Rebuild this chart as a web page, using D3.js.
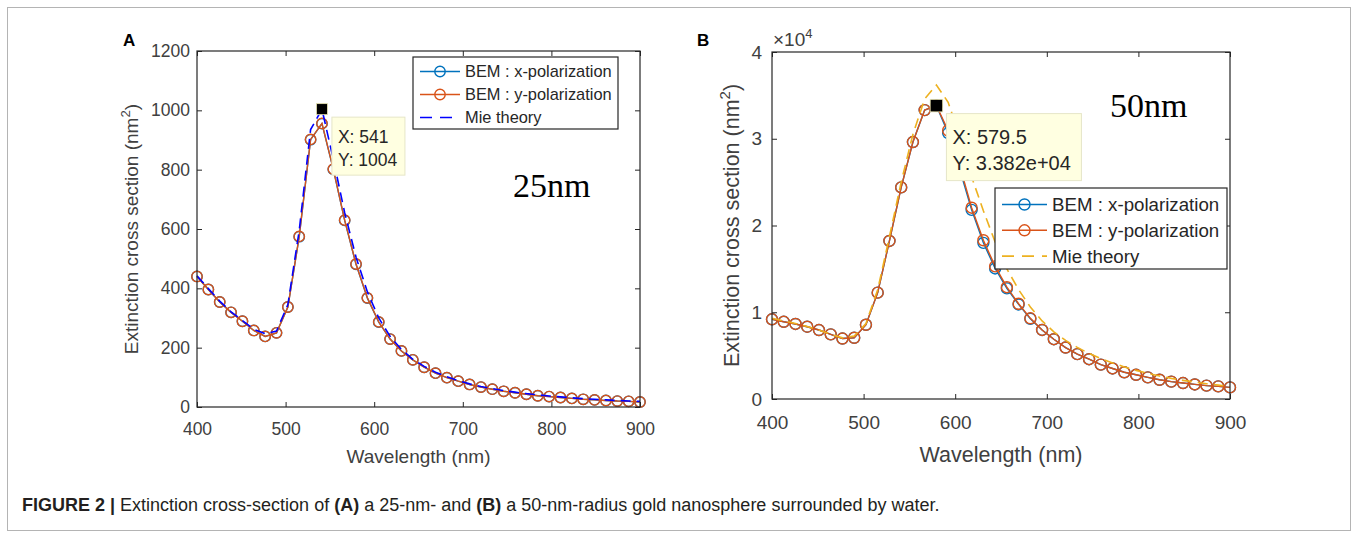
<!DOCTYPE html>
<html>
<head>
<meta charset="utf-8">
<script src="https://cdn.jsdelivr.net/npm/d3@7"></script>
<style>
body{margin:0;background:#fff;}
svg text{font-family:"Liberation Sans",Arial,Helvetica,sans-serif;}
</style>
</head>
<body>
<svg id="fig" width="1358" height="538"></svg>
<script>
////////////////////////////////////////////////////////////////////////////
// data (40 wavelengths, 400-900 nm)
////////////////////////////////////////////////////////////////////////////
var wavelength = [400, 412.82, 425.64, 438.46, 451.28, 464.1, 476.92, 489.74, 502.56, 515.38,
  528.21, 541.03, 553.85, 566.67, 579.49, 592.31, 605.13, 617.95, 630.77, 643.59,
  656.41, 669.23, 682.05, 694.87, 707.69, 720.51, 733.33, 746.15, 758.97, 771.79,
  784.62, 797.44, 810.26, 823.08, 835.9, 848.72, 861.54, 874.36, 887.18, 900];

// panel A : 25 nm
var bemXA = [440, 396, 354, 319, 289, 258, 238, 250, 337, 574, 901, 955, 801, 629, 481, 367, 286, 229, 189, 159,
  134, 114, 99, 87, 76, 67, 60, 53, 48, 43, 38, 35, 32, 29, 26, 24, 22, 20, 19, 17];
var bemYA = [440, 396, 354, 319, 289, 258, 238, 250, 337, 575, 902, 956, 802, 630, 482, 368, 287, 229, 189, 159,
  134, 114, 99, 87, 76, 67, 60, 53, 48, 43, 38, 35, 32, 29, 26, 24, 22, 20, 19, 17];
var mieA = [442, 399, 357, 321, 291, 262, 247, 256, 345, 595, 935, 1004, 835, 655, 505, 388, 300, 238, 194, 161,
  137, 117, 102, 89, 78, 69, 62, 55, 50, 45, 41, 37, 34, 31, 28, 26, 24, 22, 20, 19];

// panel B : 50 nm
var bemXB = [9190, 8900, 8650, 8330, 7950, 7450, 6970, 7060, 8560, 12260, 18220, 24390, 29620, 33300, 33820, 30650, 26400, 21800, 18000, 15050,
  12750, 10900, 9250, 7960, 6890, 5930, 5170, 4590, 3960, 3520, 3080, 2790, 2490, 2220, 2000, 1840, 1680, 1540, 1450, 1340];
var bemYB = [9190, 8900, 8650, 8330, 7950, 7450, 6970, 7060, 8560, 12260, 18220, 24390, 29620, 33300, 33820, 30950, 26800, 22050, 18300, 15290,
  12890, 10980, 9300, 7960, 6890, 5930, 5170, 4590, 3960, 3520, 3080, 2790, 2490, 2220, 2000, 1840, 1680, 1540, 1450, 1340];
var mieB = [9300, 9000, 8700, 8350, 7950, 7450, 7050, 7250, 8700, 12600, 18700, 25000, 30500, 34600, 36200, 34200, 30200, 25600, 21700, 18100,
  15000, 12600, 10600, 9000, 7750, 6750, 5950, 5250, 4650, 4150, 3700, 3300, 2950, 2650, 2380, 2150, 1950, 1760, 1600, 1450];

// ticks, legend, data tips
var xTicks = [400, 500, 600, 700, 800, 900];
var yTicksA = [0, 200, 400, 600, 800, 1000, 1200];
var yTicksB = [0, 10000, 20000, 30000, 40000];
var yTickLabelsB = ["0", "1", "2", "3", "4"];
var legendLabels = ["BEM : x-polarization", "BEM : y-polarization", "Mie theory"];
var tipA = [541, 1004];
var tipB = [579.5, 33820];

var colX = "#0072BD", colY = "#D95319";
var svg = d3.select("#fig");

// outer frame of the figure
svg.append("rect").attr("x", 7.5).attr("y", 7.5).attr("width", 1343).attr("height", 523)
  .attr("fill", "none").attr("stroke", "#b4b4b4").attr("stroke-width", 1);

////////////////////////////////////////////////////////////////////////////
// one panel
////////////////////////////////////////////////////////////////////////////
function drawPanel(p) {
  var g = svg.append("g");
  var x = d3.scaleLinear().domain([400, 900]).range([p.left, p.right]);
  var y = d3.scaleLinear().domain([0, p.yTicks[p.yTicks.length - 1]]).range([p.bottom, p.top]);

  var line = function(vals) {
    return d3.line().x(function(d, i) { return x(wavelength[i]); })
      .y(function(d) { return y(d); })(vals);
  };

  // BEM x, BEM y, then Mie on top (matlab plot order)
  [[p.bemX, colX], [p.bemY, colY]].forEach(function(s) {
    g.append("path").attr("d", line(s[0])).attr("fill", "none")
      .attr("stroke", s[1]).attr("stroke-width", 1.4);
    g.append("g").selectAll("circle").data(s[0]).enter().append("circle")
      .attr("cx", function(d, i) { return x(wavelength[i]); })
      .attr("cy", function(d) { return y(d); })
      .attr("r", p.r).attr("fill", "none").attr("stroke", s[1]).attr("stroke-width", 1.4);
  });
  g.append("path").attr("d", line(p.mie)).attr("fill", "none")
    .attr("stroke", p.mieColor).attr("stroke-width", 1.6).attr("stroke-dasharray", "10,6");

  // axes, ticks inward on all four sides
  var tk = 5;
  g.append("g").attr("transform", "translate(0," + p.bottom + ")")
    .call(d3.axisBottom(x).tickValues(xTicks).tickSize(-tk).tickPadding(p.xPad).tickFormat(d3.format("d")));
  g.append("g").attr("transform", "translate(" + p.left + ",0)")
    .call(d3.axisLeft(y).tickValues(p.yTicks).tickSize(-tk).tickPadding(p.yPad).tickFormat(p.yFmt));
  g.append("g").attr("transform", "translate(0," + p.top + ")")
    .call(d3.axisTop(x).tickValues(xTicks).tickSize(-tk).tickFormat(""));
  g.append("g").attr("transform", "translate(" + p.right + ",0)")
    .call(d3.axisRight(y).tickValues(p.yTicks).tickSize(-tk).tickFormat(""));
  g.selectAll(".domain").remove();
  g.selectAll(".tick line").attr("stroke", "#262626");
  g.selectAll(".tick text").attr("fill", "#404040").style("font-size", p.tickFont + "px")
    .style("font-family", "'Liberation Sans', Arial, sans-serif");

  g.append("rect").attr("x", p.left).attr("y", p.top)
    .attr("width", p.right - p.left).attr("height", p.bottom - p.top)
    .attr("fill", "none").attr("stroke", "#262626").attr("stroke-width", 1.2);

  // axis labels
  g.append("text").attr("x", (p.left + p.right) / 2).attr("y", p.xLabelY)
    .attr("text-anchor", "middle").attr("fill", "#404040").style("font-size", p.labelFont + "px")
    .text("Wavelength (nm)");
  var yl = g.append("text")
    .attr("transform", "translate(" + p.yLabelX + "," + (p.top + p.bottom) / 2 + ") rotate(-90)")
    .attr("text-anchor", "middle").attr("fill", "#404040").style("font-size", p.labelFont + "px");
  yl.append("tspan").text("Extinction cross section (nm");
  yl.append("tspan").attr("dy", -p.labelFont * 0.4).style("font-size", (p.labelFont * 0.7) + "px").text("2");
  yl.append("tspan").attr("dy", p.labelFont * 0.4).text(")");

  // panel letter
  g.append("text").attr("x", p.letterX).attr("y", 46).attr("fill", "#000")
    .style("font-size", "17px").style("font-weight", "bold").text(p.letter);

  // size label
  g.append("text").attr("x", p.sizeX).attr("y", p.sizeY)
    .style("font-family", "'Liberation Serif', 'Times New Roman', serif").style("font-size", "34px")
    .attr("fill", "#000").text(p.sizeText);

  // data tip
  var tx = x(p.tip[0]), ty = y(p.tip[1]);
  g.append("rect").attr("x", tx + 10).attr("y", ty + 8).attr("width", p.tipW).attr("height", p.tipH)
    .attr("fill", "#ffffe1").attr("stroke", "#e6e6c8").attr("stroke-width", 1);
  g.append("text").attr("x", tx + 16).attr("y", ty + 8 + p.tipH * 0.45).attr("fill", "#262626")
    .style("font-size", p.tipFont + "px").text("X: " + p.tipText[0]);
  g.append("text").attr("x", tx + 16).attr("y", ty + 8 + p.tipH * 0.84).attr("fill", "#262626")
    .style("font-size", p.tipFont + "px").text("Y: " + p.tipText[1]);
  g.append("rect").attr("x", tx - p.sq / 2).attr("y", ty - p.sq / 2).attr("width", p.sq).attr("height", p.sq)
    .attr("fill", "#000").attr("stroke", "#e8e4b0").attr("stroke-width", 0.8);

  // legend
  var L = p.legend;
  var lg = g.append("g");
  lg.append("rect").attr("x", L.x).attr("y", L.y).attr("width", L.w).attr("height", L.h)
    .attr("fill", "#fff").attr("stroke", "#262626").attr("stroke-width", 1.2);
  var lcol = [colX, colY, p.mieColor];
  legendLabels.forEach(function(lab, i) {
    var cy = L.y + L.first + i * L.step;
    var ln = lg.append("line").attr("x1", L.x + 7).attr("x2", L.x + 7 + L.len)
      .attr("y1", cy).attr("y2", cy).attr("stroke", lcol[i]).attr("stroke-width", i < 2 ? 1.4 : 1.6);
    if (i < 2) {
      lg.append("circle").attr("cx", L.x + 7 + L.len / 2).attr("cy", cy).attr("r", p.r)
        .attr("fill", "none").attr("stroke", lcol[i]).attr("stroke-width", 1.4);
    } else {
      ln.attr("stroke-dasharray", "12,8");
    }
    lg.append("text").attr("x", L.x + 7 + L.len + 5).attr("y", cy + L.font * 0.35)
      .attr("fill", "#262626").style("font-size", L.font + "px").text(lab);
  });
  return g;
}

drawPanel({
  left: 197, right: 640, top: 51, bottom: 407,
  bemX: bemXA, bemY: bemYA, mie: mieA, mieColor: "#0000FF",
  yTicks: yTicksA, yFmt: d3.format("d"), r: 5.2,
  xPad: 16, yPad: 7, tickFont: 17.5, labelFont: 19,
  xLabelY: 463, yLabelX: 138,
  letter: "A", letterX: 123,
  sizeText: "25nm", sizeX: 513, sizeY: 197,
  tip: tipA, tipText: ["541", "1004"], tipW: 73, tipH: 58, tipFont: 17.5, sq: 11,
  legend: {x: 413, y: 57, w: 205, h: 72, first: 14.5, step: 23, len: 40, font: 16.4}
});

var gB = drawPanel({
  left: 772, right: 1230, top: 52, bottom: 399,
  bemX: bemXB, bemY: bemYB, mie: mieB, mieColor: "#EDB120",
  yTicks: yTicksB, yFmt: function(d, i) { return yTickLabelsB[i]; }, r: 5.5,
  xPad: 17, yPad: 10, tickFont: 19, labelFont: 21.5,
  xLabelY: 462, yLabelX: 739,
  letter: "B", letterX: 697,
  sizeText: "50nm", sizeX: 1110, sizeY: 117,
  tip: tipB, tipText: ["579.5", "3.382e+04"], tipW: 135, tipH: 67, tipFont: 20, sq: 12.5,
  legend: {x: 995, y: 188, w: 232, h: 81, first: 16.5, step: 25.8, len: 45, font: 18.7}
});

// exponent label of panel B
var ex = gB.append("text").attr("x", 773).attr("y", 46).attr("fill", "#404040").style("font-size", "19px");
ex.append("tspan").text("\u00d710");
ex.append("tspan").attr("dy", -8).style("font-size", "13px").text("4");

// caption
var cap = svg.append("text").attr("x", 22).attr("y", 511).attr("fill", "#231f20").style("font-size", "18px");
cap.append("tspan").style("font-weight", "bold").text("FIGURE 2 | ");
cap.append("tspan").text("Extinction cross-section of ");
cap.append("tspan").style("font-weight", "bold").text("(A)");
cap.append("tspan").text(" a 25-nm- and ");
cap.append("tspan").style("font-weight", "bold").text("(B)");
cap.append("tspan").text(" a 50-nm-radius gold nanosphere surrounded by water.");
</script>
</body>
</html>
